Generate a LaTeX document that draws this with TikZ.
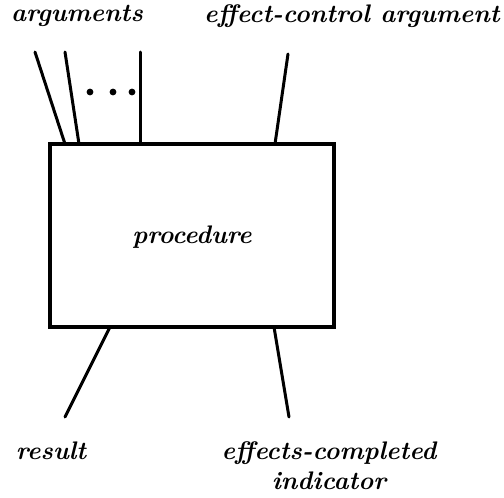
\documentclass[tikz,border=0pt]{standalone}
\usetikzlibrary{calc}
\begin{document}
\begin{tikzpicture}[x=0.5pt,y=-0.5pt,
  lbl/.style={font=\fontsize{12.7}{15}\selectfont\bfseries\itshape, inner sep=0pt, align=center},
  wire/.style={line width=1.5pt, line cap=round},
  box/.style={draw, line width=1.7pt, minimum width=142pt, minimum height=91.5pt, inner sep=0pt},
  dot/.style={circle, fill, inner sep=0pt, minimum size=3.4pt}]
\useasboundingbox (0,0) rectangle (504,498);

% the procedure box
\node[box] (proc) at (192,235.5) {};
\node[lbl] (ptext) at (192,237) {procedure};

% top labels
\node[lbl] (args) at (77,16) {arguments};
\node[lbl] (eca) at (352,16) {effect-control argument};

% bottom labels
\node[lbl] (res) at (51,451) {result};
\node[lbl] (eci) at (329,466) {effects-completed\\[0pt]indicator};

% wire ends
\coordinate (a1t) at (35,52);  \coordinate (a1b) at (65,144);
\coordinate (a2t) at (65,52);  \coordinate (a2b) at (79,144);
\coordinate (a3t) at (140,52); \coordinate (a3b) at (140,144);
\coordinate (ect) at (288,54); \coordinate (ecb) at (275,144);
\coordinate (rt) at (110,327); \coordinate (rb) at (65,417);
\coordinate (it) at (274,327); \coordinate (ib) at (289,417);

\draw[wire] (a1t) -- (a1b);
\draw[wire] (a2t) -- (a2b);
\draw[wire] (a3t) -- (a3b);
\draw[wire] (ect) -- (ecb);
\draw[wire] (rt) -- (rb);
\draw[wire] (it) -- (ib);

% ellipsis between the argument wires
\node[dot] (d1) at (90,92) {};
\node[dot] (d2) at (113,92) {};
\node[dot] (d3) at (132,92) {};
\end{tikzpicture}
\end{document}
